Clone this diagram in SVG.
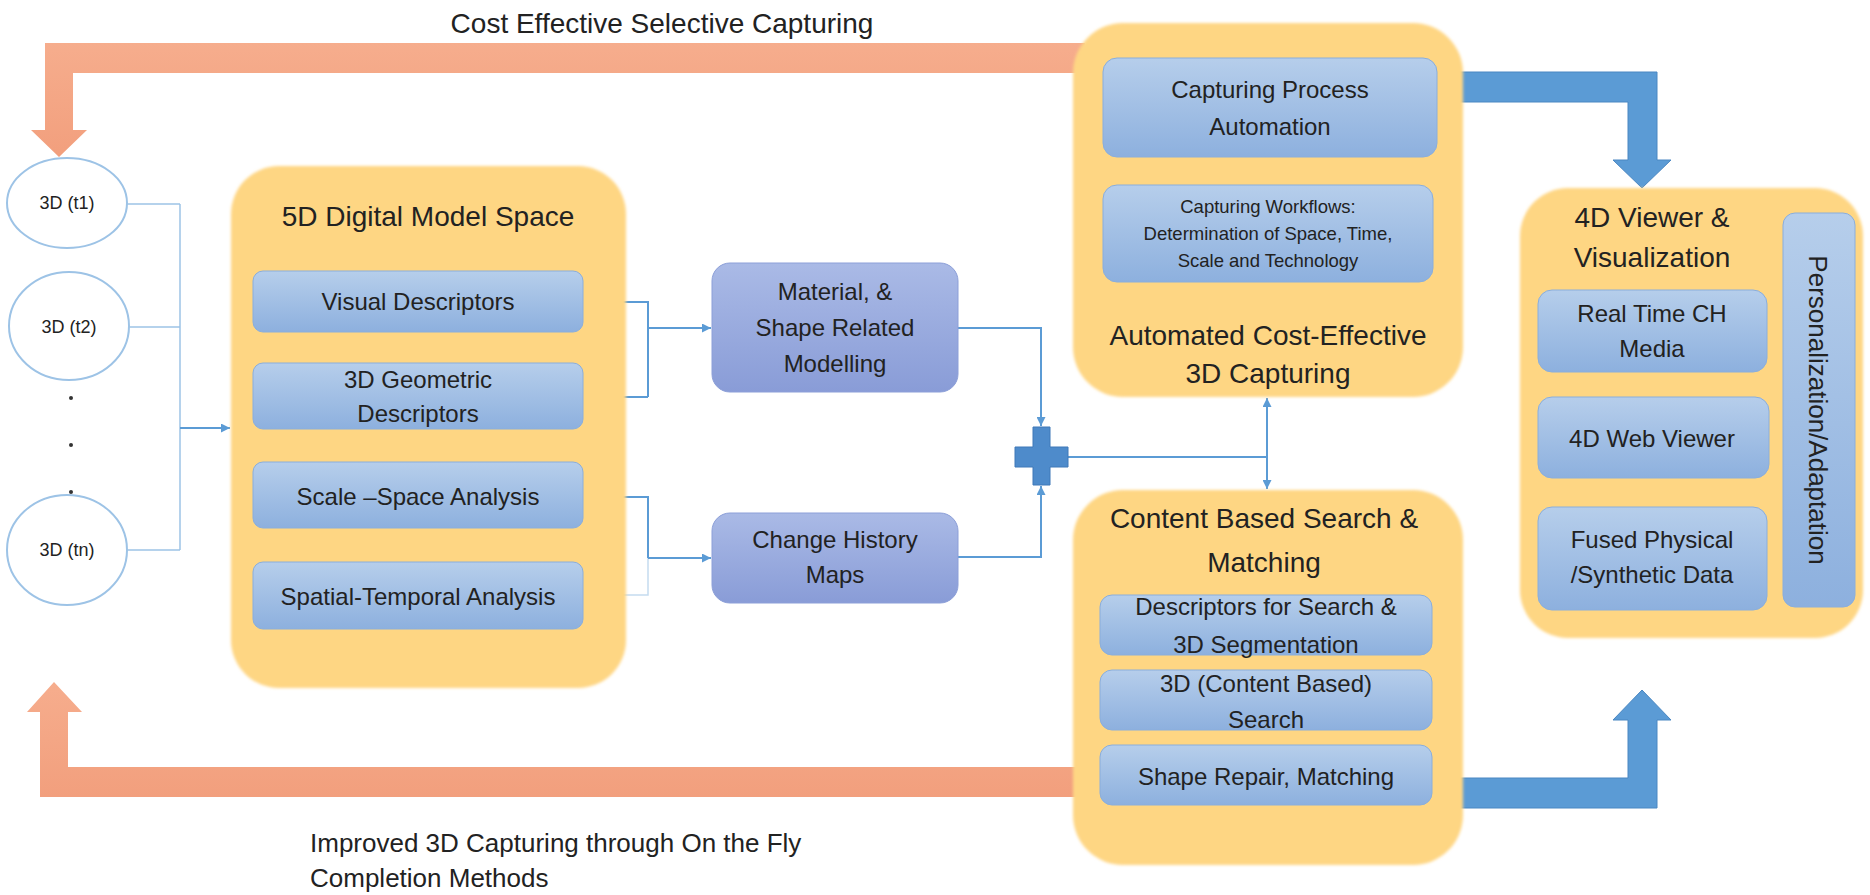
<svg xmlns="http://www.w3.org/2000/svg" width="1870" height="895" viewBox="0 0 1870 895">
<defs>
<linearGradient id="gBlue" x1="0" y1="0" x2="0" y2="1"><stop offset="0" stop-color="#B6CEEB"/><stop offset="1" stop-color="#8DB0DE"/></linearGradient>
<linearGradient id="gPurple" x1="0" y1="0" x2="0" y2="1"><stop offset="0" stop-color="#AABAE6"/><stop offset="1" stop-color="#899CD7"/></linearGradient>
<linearGradient id="gOrange" x1="0" y1="0" x2="0" y2="1"><stop offset="0" stop-color="#F6AD8D"/><stop offset="1" stop-color="#F29F7D"/></linearGradient>
<filter id="soft" x="-5%" y="-5%" width="110%" height="110%"><feGaussianBlur stdDeviation="1.5"/></filter>
<marker id="ah" viewBox="0 0 10 10" refX="10" refY="5" markerWidth="9" markerHeight="9" markerUnits="userSpaceOnUse" orient="auto"><path d="M0,0 L10,5 L0,10 z" fill="#5B9BD5"/></marker>
<style>
.t{font-family:"Liberation Sans",Arial,sans-serif;fill:#222;text-anchor:middle}
.b{font-size:24px}
.h{font-size:28px}
.s{font-size:18px}
.box{fill:url(#gBlue);stroke:#8AAEDC;stroke-width:1}
.mbox{fill:url(#gPurple);stroke:#8C9FD8;stroke-width:1}
.obox{fill:#FED683;filter:url(#soft)}
.ell{fill:#fff;stroke:#9DC3E6;stroke-width:2}
.ln{fill:none;stroke:#5B9BD5;stroke-width:2}
.lt{fill:none;stroke:#9DC3E6;stroke-width:1.5}
.lx{fill:none;stroke:#C5DCF0;stroke-width:1.5}
.oa{fill:url(#gOrange)}
.ba{fill:#5B9BD5;stroke:#4A87C2;stroke-width:1}
</style>
</defs>
<rect width="1870" height="895" fill="#fff"/>

<g id="connectors">
<polygon class="oa" points="1085,43 45,43 45,130 31,130 59,157 87,130 73,130 73,73 1085,73"/>
<polygon class="oa" points="1085,797 40,797 40,712 27,712 54,682 82,712 68,712 68,767 1085,767"/>
<polygon class="ba" points="1450,72 1657,72 1657,160 1671,160 1642,188 1613,160 1628,160 1628,102 1450,102"/>
<polygon class="ba" points="1450,808 1657,808 1657,720 1671,720 1642,690 1613,720 1628,720 1628,778 1450,778"/>
<path class="lt" d="M127,204 H180 M129,327 H180 M127,550 H180 M180,204 V550"/>
<path class="ln" d="M180,428 H230" marker-end="url(#ah)"/>
<path class="ln" d="M583,302 H648 V397 M583,397 H648"/>
<path class="ln" d="M648,328 H711" marker-end="url(#ah)"/>
<path class="ln" d="M583,497 H648 V558"/>
<path class="lx" d="M583,595 H648 V558"/>
<path class="ln" d="M648,558 H711" marker-end="url(#ah)"/>
<path class="ln" d="M958,328 H1041 V426" marker-end="url(#ah)"/>
<path class="ln" d="M958,557 H1041 V486" marker-end="url(#ah)"/>
<path class="ln" d="M1068,457 H1267"/>
<path class="ln" d="M1267,457 V398" marker-end="url(#ah)"/>
<path class="ln" d="M1267,457 V489" marker-end="url(#ah)"/>
</g>

<g id="title-top"><text class="t" x="662" y="33" style="font-size:28px">Cost Effective Selective Capturing</text></g>
<g id="title-bottom">
<text class="t" x="310" y="852" style="font-size:26px;text-anchor:start">Improved 3D Capturing through On the Fly</text>
<text class="t" x="310" y="887" style="font-size:26px;text-anchor:start">Completion Methods</text>
</g>

<g id="e-t1"><ellipse class="ell" cx="67" cy="203" rx="60" ry="45"/><text class="t s" x="67" y="209">3D (t1)</text></g>
<g id="e-t2"><ellipse class="ell" cx="69" cy="326" rx="60" ry="54"/><text class="t s" x="69" y="333">3D (t2)</text></g>
<g id="dots"><circle cx="71" cy="398" r="2" fill="#333"/><circle cx="71" cy="445" r="2" fill="#333"/><circle cx="71" cy="492" r="2" fill="#333"/></g>
<g id="e-tn"><ellipse class="ell" cx="67" cy="550" rx="60" ry="55"/><text class="t s" x="67" y="556">3D (tn)</text></g>

<g id="model-space">
<rect class="obox" x="231" y="166" width="395" height="522" rx="48"/>
<text class="t h" x="428" y="226">5D Digital Model Space</text>
<rect class="box" x="253" y="271" width="330" height="61" rx="10"/>
<text class="t b" x="418" y="310">Visual Descriptors</text>
<rect class="box" x="253" y="363" width="330" height="66" rx="10"/>
<text class="t b" x="418" y="388">3D Geometric</text>
<text class="t b" x="418" y="422">Descriptors</text>
<rect class="box" x="253" y="462" width="330" height="66" rx="10"/>
<text class="t b" x="418" y="505">Scale –Space Analysis</text>
<rect class="box" x="253" y="562" width="330" height="67" rx="10"/>
<text class="t b" x="418" y="605">Spatial-Temporal Analysis</text>
</g>

<g id="material"><rect class="mbox" x="712" y="263" width="246" height="129" rx="18"/>
<text class="t b" x="835" y="300">Material, &amp;</text>
<text class="t b" x="835" y="336">Shape Related</text>
<text class="t b" x="835" y="372">Modelling</text></g>

<g id="change-history"><rect class="mbox" x="712" y="513" width="246" height="90" rx="18"/>
<text class="t b" x="835" y="548">Change History</text>
<text class="t b" x="835" y="583">Maps</text></g>

<g id="plus"><path d="M1033,427 H1050 V447 H1068 V467 H1050 V485 H1033 V467 H1015 V447 H1033 Z" fill="#4E8BCB" stroke="#3F78B8" stroke-width="1"/></g>

<g id="automated">
<rect class="obox" x="1073" y="23" width="390" height="374" rx="50"/>
<rect class="box" x="1103" y="58" width="334" height="99" rx="14"/>
<text class="t b" x="1270" y="98">Capturing Process</text>
<text class="t b" x="1270" y="135">Automation</text>
<rect class="box" x="1103" y="185" width="330" height="97" rx="14"/>
<text class="t" x="1268" y="213" style="font-size:18.5px">Capturing Workflows:</text>
<text class="t" x="1268" y="240" style="font-size:18.5px">Determination of Space, Time,</text>
<text class="t" x="1268" y="267" style="font-size:18.5px">Scale and Technology</text>
<text class="t h" x="1268" y="345">Automated Cost-Effective</text>
<text class="t h" x="1268" y="383">3D Capturing</text>
</g>

<g id="content-search">
<rect class="obox" x="1073" y="490" width="390" height="375" rx="50"/>
<text class="t h" x="1264" y="528">Content Based Search &amp;</text>
<text class="t h" x="1264" y="572">Matching</text>
<rect class="box" x="1100" y="595" width="332" height="60" rx="12"/>
<text class="t b" x="1266" y="615">Descriptors for Search &amp;</text>
<text class="t b" x="1266" y="653">3D Segmentation</text>
<rect class="box" x="1100" y="670" width="332" height="60" rx="12"/>
<text class="t b" x="1266" y="692">3D (Content Based)</text>
<text class="t b" x="1266" y="728">Search</text>
<rect class="box" x="1100" y="745" width="332" height="60" rx="12"/>
<text class="t b" x="1266" y="785">Shape Repair, Matching</text>
</g>

<g id="viewer">
<rect class="obox" x="1520" y="188" width="343" height="450" rx="48"/>
<text class="t h" x="1652" y="227">4D Viewer &amp;</text>
<text class="t h" x="1652" y="267">Visualization</text>
<rect class="box" x="1538" y="290" width="229" height="82" rx="14"/>
<text class="t b" x="1652" y="322">Real Time CH</text>
<text class="t b" x="1652" y="357">Media</text>
<rect class="box" x="1538" y="397" width="231" height="81" rx="14"/>
<text class="t b" x="1652" y="447">4D Web Viewer</text>
<rect class="box" x="1538" y="507" width="229" height="103" rx="14"/>
<text class="t b" x="1652" y="548">Fused Physical</text>
<text class="t b" x="1652" y="583">/Synthetic Data</text>
<rect class="box" x="1783" y="213" width="72" height="394" rx="12"/>
<text class="t" style="font-size:26px" transform="translate(1809,410) rotate(90)">Personalization/Adaptation</text>
</g>
</svg>
